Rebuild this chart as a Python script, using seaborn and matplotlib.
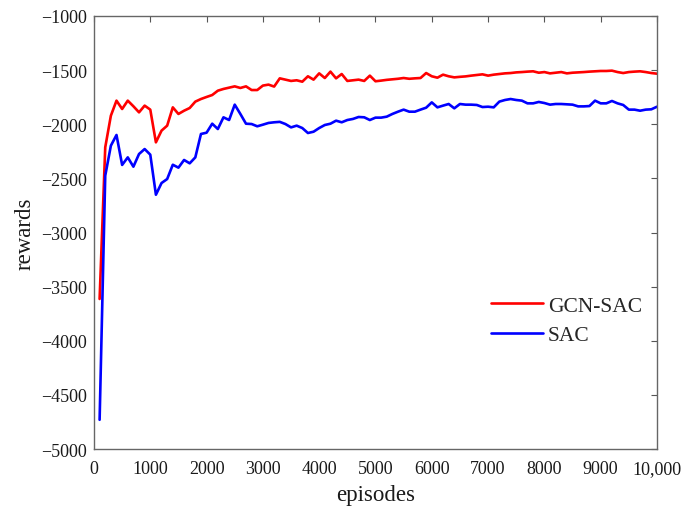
import numpy as np
import pandas as pd
import matplotlib
matplotlib.use("Agg")
import matplotlib.pyplot as plt
import seaborn as sns

episodes = list(range(100, 10001, 100))

gcn_sac = [
    -3614, -2213, -1921, -1782, -1859, -1782, -1834, -1890, -1828, -1865,
    -2167, -2059, -2013, -1844, -1905, -1875, -1850, -1791, -1767, -1748,
    -1730, -1690, -1674, -1662, -1650, -1665, -1650, -1684, -1684, -1643,
    -1634, -1652, -1576, -1588, -1600, -1594, -1607, -1557, -1588, -1530,
    -1573, -1514, -1576, -1536, -1600, -1594, -1588, -1600, -1551, -1603,
    -1597, -1590, -1585, -1580, -1573, -1580, -1576, -1573, -1527, -1557,
    -1570, -1542, -1557, -1567, -1562, -1558, -1551, -1545, -1539, -1551,
    -1542, -1536, -1530, -1527, -1521, -1518, -1514, -1511, -1524, -1518,
    -1530, -1524, -1518, -1530, -1524, -1521, -1518, -1514, -1511, -1508,
    -1508, -1505, -1518, -1527, -1518, -1514, -1511, -1518, -1527, -1533,
]

sac = [
    -4730, -2475, -2198, -2099, -2376, -2306, -2392, -2275, -2229, -2281,
    -2651, -2543, -2506, -2374, -2401, -2330, -2361, -2306, -2090, -2078,
    -1995, -2044, -1936, -1961, -1819, -1905, -1995, -1998, -2019, -2004,
    -1988, -1982, -1978, -1998, -2029, -2013, -2035, -2081, -2069, -2035,
    -2007, -1995, -1967, -1982, -1961, -1951, -1933, -1936, -1961, -1939,
    -1939, -1930, -1905, -1884, -1865, -1884, -1884, -1865, -1847, -1798,
    -1844, -1828, -1813, -1853, -1813, -1819, -1819, -1822, -1841, -1838,
    -1844, -1791, -1776, -1767, -1776, -1782, -1807, -1807, -1794, -1804,
    -1819, -1813, -1813, -1816, -1819, -1835, -1835, -1832, -1782, -1807,
    -1807, -1785, -1807, -1822, -1865, -1865, -1875, -1865, -1862, -1838,
]

series_names = ["GCN-SAC", "SAC"]
x_ticks = [0, 1000, 2000, 3000, 4000, 5000, 6000, 7000, 8000, 9000, 10000]
x_tick_labels = ["0", "1000", "2000", "3000", "4000", "5000", "6000", "7000",
                 "8000", "9000", "10,000"]
y_ticks = [-5000, -4500, -4000, -3500, -3000, -2500, -2000, -1500, -1000]
y_tick_labels = ["\u22125000", "\u22124500", "\u22124000", "\u22123500", "\u22123000",
                 "\u22122500", "\u22122000", "\u22121500", "\u22121000"]

df = pd.DataFrame({
    "episodes": episodes * 2,
    "rewards": gcn_sac + sac,
    "method": [series_names[0]] * len(episodes) + [series_names[1]] * len(episodes),
})

sns.set_style("white")
plt.rcParams["font.family"] = ["Liberation Serif", "DejaVu Serif"]

fig = plt.figure(figsize=(6.84, 5.10), dpi=100)
ax = fig.add_axes([0.1374, 0.1176, 0.8231, 0.8491])

sns.lineplot(data=df, x="episodes", y="rewards", hue="method",
             palette={"GCN-SAC": "#ff0000", "SAC": "#0000ff"},
             linewidth=1.9, ax=ax, legend=True)

ax.set_xlim(0, 10000)
ax.set_ylim(-5000, -1000)
ax.set_xticks(x_ticks)
ax.set_xticklabels(x_tick_labels)
ax.set_yticks(y_ticks)
ax.set_yticklabels(y_tick_labels)
ax.tick_params(axis="both", direction="in", length=4, width=0.8, color="#555555",
               labelsize=13, top=True, right=True, labelcolor="#1a1a1a")
ax.tick_params(axis="x", pad=8)
ax.tick_params(axis="y", pad=5)
for s in ax.spines.values():
    s.set_color("#666666")
    s.set_linewidth(1.0)
    s.set_visible(True)

ax.set_xlabel("episodes", fontsize=16.5, labelpad=5, color="#1a1a1a")
ax.set_ylabel("rewards", fontsize=16.5, labelpad=4, color="#1a1a1a")

handles, labels = ax.get_legend_handles_labels()
ax.legend(handles, labels, loc="center left", bbox_to_anchor=(0.69, 0.297),
          frameon=False, fontsize=15.5, handlelength=2.4, handletextpad=0.25,
          labelspacing=0.45, borderaxespad=0)

fig.savefig("out.png", dpi=100)
